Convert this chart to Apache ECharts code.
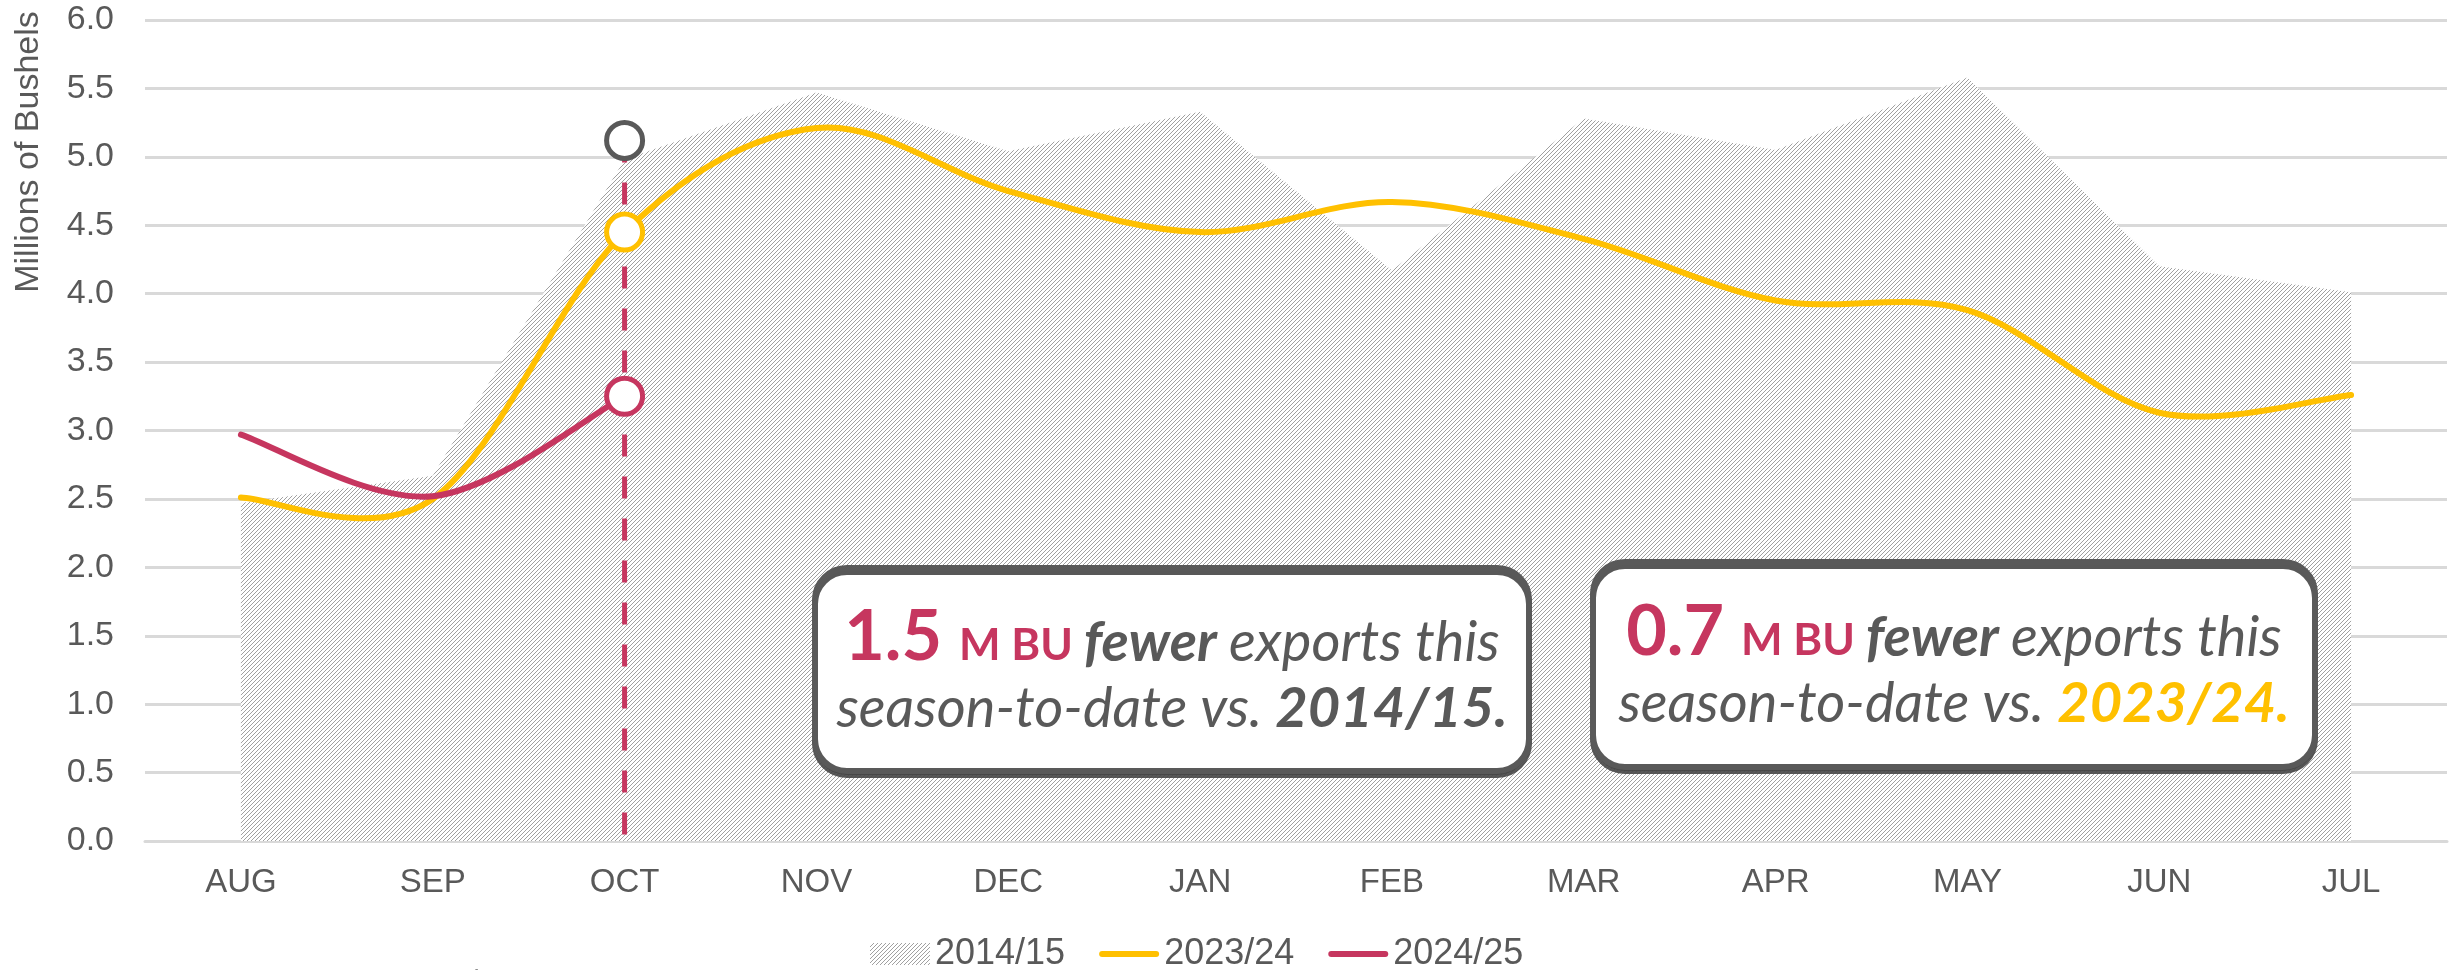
<!DOCTYPE html>
<html>
<head>
<meta charset="utf-8">
<script src="https://cdn.jsdelivr.net/npm/echarts@6/dist/echarts.min.js"></script>
<style>
  html, body { margin: 0; padding: 0; background: #fff; }
  #chart { width: 2453px; height: 970px; }
</style>
</head>
<body>
<div id="chart"></div>
<script>
const months = ['AUG', 'SEP', 'OCT', 'NOV', 'DEC', 'JAN', 'FEB', 'MAR', 'APR', 'MAY', 'JUN', 'JUL'];
const exports2014 = [2.47, 2.67, 4.98, 5.47, 5.04, 5.33, 4.17, 5.28, 5.05, 5.58, 4.2, 4.01];
const exports2023 = [2.51, 2.5, 4.45, 5.21, 4.75, 4.45, 4.67, 4.4, 3.95, 3.88, 3.13, 3.26];
const exports2024 = [2.97, 2.52, 3.25];
// markers at the current month (OCT): 2014/15, 2023/24, 2024/25
const octMarkers = [5.12, 4.45, 3.25];
const yTicks = [0, 6, 0.5];

const RED = '#C6365F';
const YELLOW = '#FFC000';
const GREY = '#595959';
const FONT = '"Liberation Sans", Arial, sans-serif';
const NOTE_FONT = 'Lato, "Open Sans", sans-serif';

// hatch pattern for the 2014/15 area (white ground so grid lines stay hidden)
const hatch = document.createElement('canvas');
hatch.width = 4;
hatch.height = 4;
const hctx = hatch.getContext('2d');
hctx.fillStyle = '#fff';
hctx.fillRect(0, 0, 4, 4);
hctx.strokeStyle = '#a0a0a0';
hctx.lineWidth = 1;
hctx.beginPath();
hctx.moveTo(0, 4); hctx.lineTo(4, 0);
hctx.moveTo(-1, 1); hctx.lineTo(1, -1);
hctx.moveTo(3, 5); hctx.lineTo(5, 3);
hctx.stroke();
const hatchFill = { image: hatch, repeat: 'repeat' };

// Excel-style smoothed line (Catmull-Rom through the points, 1/6 handles)
const smoothPath = (pts) => {
  let d = 'M' + pts[0][0] + ',' + pts[0][1];
  for (let i = 0; i < pts.length - 1; i++) {
    const p0 = pts[i - 1] || pts[i];
    const p1 = pts[i];
    const p2 = pts[i + 1];
    const p3 = pts[i + 2] || p2;
    const c1 = [p1[0] + (p2[0] - p0[0]) / 6, p1[1] + (p2[1] - p0[1]) / 6];
    const c2 = [p2[0] - (p3[0] - p1[0]) / 6, p2[1] - (p3[1] - p1[1]) / 6];
    d += ' C' + c1[0] + ',' + c1[1] + ' ' + c2[0] + ',' + c2[1] + ' ' + p2[0] + ',' + p2[1];
  }
  return d;
};

const smoothSeries = (name, values, color, z) => ({
  name: name,
  type: 'custom',
  z: z,
  itemStyle: { color: color },
  data: values.map((v, i) => [months[i], v]),
  renderItem: (params, api) => {
    if (params.dataIndex !== 0) return null;
    const pts = values.map((v, i) => api.coord([months[i], v]));
    return {
      type: 'path',
      shape: { pathData: smoothPath(pts) },
      style: { fill: 'none', stroke: color, lineWidth: 6, lineCap: 'round', lineJoin: 'round' }
    };
  }
});

const chart = echarts.init(document.getElementById('chart'));

const noteRich = {
  big: { fontSize: 70, fontWeight: 'bold', fill: RED, fontFamily: NOTE_FONT, lineHeight: 66, verticalAlign: 'bottom' },
  unit: { fontSize: 44, fontWeight: 'bold', fill: RED, fontFamily: NOTE_FONT, lineHeight: 66, verticalAlign: 'bottom', padding: [0, 0, 5, 0] },
  fb: { fontSize: 56, fontWeight: 'bold', fontStyle: 'italic', fill: GREY, fontFamily: NOTE_FONT, lineHeight: 66, verticalAlign: 'bottom', padding: [0, 0, 2, 0] },
  it: { fontSize: 56, fontStyle: 'italic', fill: GREY, fontFamily: NOTE_FONT, lineHeight: 66, verticalAlign: 'bottom', padding: [0, 0, 2, 0] },
  gb: { fontSize: 56, fontWeight: 'bold', fontStyle: 'italic', fill: GREY, fontFamily: NOTE_FONT, lineHeight: 66, verticalAlign: 'bottom', padding: [0, 0, 2, 0] },
  yb: { fontSize: 56, fontWeight: 'bold', fontStyle: 'italic', fill: YELLOW, fontFamily: NOTE_FONT, lineHeight: 66, verticalAlign: 'bottom', padding: [0, 0, 2, 0] }
};

const noteBox = (x, y, w, h, text) => ({
  type: 'group',
  children: [{
    type: 'rect',
    z: 100,
    shape: { x: x, y: y, width: w, height: h, r: 32 },
    style: {
      fill: '#fff', stroke: GREY, lineWidth: 6,
      shadowColor: 'rgba(70,70,70,0.9)', shadowOffsetY: 4, shadowBlur: 0
    }
  }, {
    type: 'text',
    z: 101,
    x: x + w / 2,
    y: y + h / 2 + 3,
    style: { text: text, rich: noteRich, align: 'center', verticalAlign: 'middle' }
  }]
});

chart.setOption({
  animation: false,
  backgroundColor: '#fff',
  grid: { left: 145, right: 6, top: 20, bottom: 129 },
  legend: {
    left: 865,
    top: 931,
    itemWidth: 60,
    itemHeight: 22,
    itemGap: 34,
    textStyle: { fontSize: 36, color: GREY, fontFamily: FONT },
    data: [
      { name: '2014/15', icon: 'rect', itemStyle: { color: hatchFill } },
      { name: '2023/24', icon: 'path://M3,0 L57,0 A3,3 0 0 1 57,6 L3,6 A3,3 0 0 1 3,0 Z', itemStyle: { color: YELLOW } },
      { name: '2024/25', icon: 'path://M3,0 L57,0 A3,3 0 0 1 57,6 L3,6 A3,3 0 0 1 3,0 Z', itemStyle: { color: RED } }
    ]
  },
  xAxis: {
    type: 'category',
    data: months,
    boundaryGap: true,
    axisTick: { show: false },
    axisLine: { lineStyle: { color: '#D9D9D9', width: 3 } },
    axisLabel: { color: GREY, fontSize: 33, fontFamily: FONT, margin: 25 }
  },
  yAxis: {
    type: 'value',
    min: yTicks[0],
    max: yTicks[1],
    interval: yTicks[2],
    axisLine: { show: false },
    axisTick: { show: false },
    axisLabel: {
      color: GREY, fontSize: 34, fontFamily: FONT, margin: 31,
      formatter: v => v.toFixed(1)
    },
    splitLine: { lineStyle: { color: '#D9D9D9', width: 3 } }
  },
  graphic: [
    {
      type: 'text',
      x: 29,
      y: 152,
      rotation: Math.PI / 2,
      style: {
        text: 'Millions of Bushels', fontSize: 34, fill: GREY, fontFamily: FONT,
        align: 'center', verticalAlign: 'middle'
      }
    },
    {
      type: 'text',
      left: 100,
      top: 967,
      style: { text: 'Source: USDA FAS Export Sales', fontSize: 28, fill: '#8c8c8c', fontFamily: FONT }
    },
    noteBox(815, 568, 714, 203,
      '{big|1.5 }{unit|M BU }{fb|fewer }{it|exports this}\n{it|season-to-date vs. }{gb|2014/15.}'),
    noteBox(1593, 562, 722, 205,
      '{big|0.7 }{unit|M BU }{fb|fewer }{it|exports this}\n{it|season-to-date vs. }{yb|2023/24.}')
  ],
  series: [
    {
      name: '2014/15',
      type: 'line',
      data: exports2014,
      symbol: 'none',
      lineStyle: { width: 0 },
      itemStyle: { color: '#BFBFBF' },
      areaStyle: { color: hatchFill, opacity: 1 },
      z: 1
    },
    smoothSeries('2023/24', exports2023, YELLOW, 3),
    smoothSeries('2024/25', exports2024, RED, 4),
    {
      // dashed marker for the current month
      type: 'line',
      data: [['OCT', octMarkers[0]], ['OCT', 0]],
      symbol: 'none',
      lineStyle: { color: RED, width: 5, type: [22, 20] },
      z: 2
    },
    {
      type: 'scatter',
      symbol: 'circle',
      symbolSize: 36,
      z: 10,
      data: [
        { value: ['OCT', octMarkers[0]], itemStyle: { borderColor: GREY } },
        { value: ['OCT', octMarkers[1]], itemStyle: { borderColor: YELLOW } },
        { value: ['OCT', octMarkers[2]], itemStyle: { borderColor: RED } }
      ],
      itemStyle: { color: '#fff', borderWidth: 5, opacity: 1 }
    }
  ]
});
</script>
</body>
</html>
